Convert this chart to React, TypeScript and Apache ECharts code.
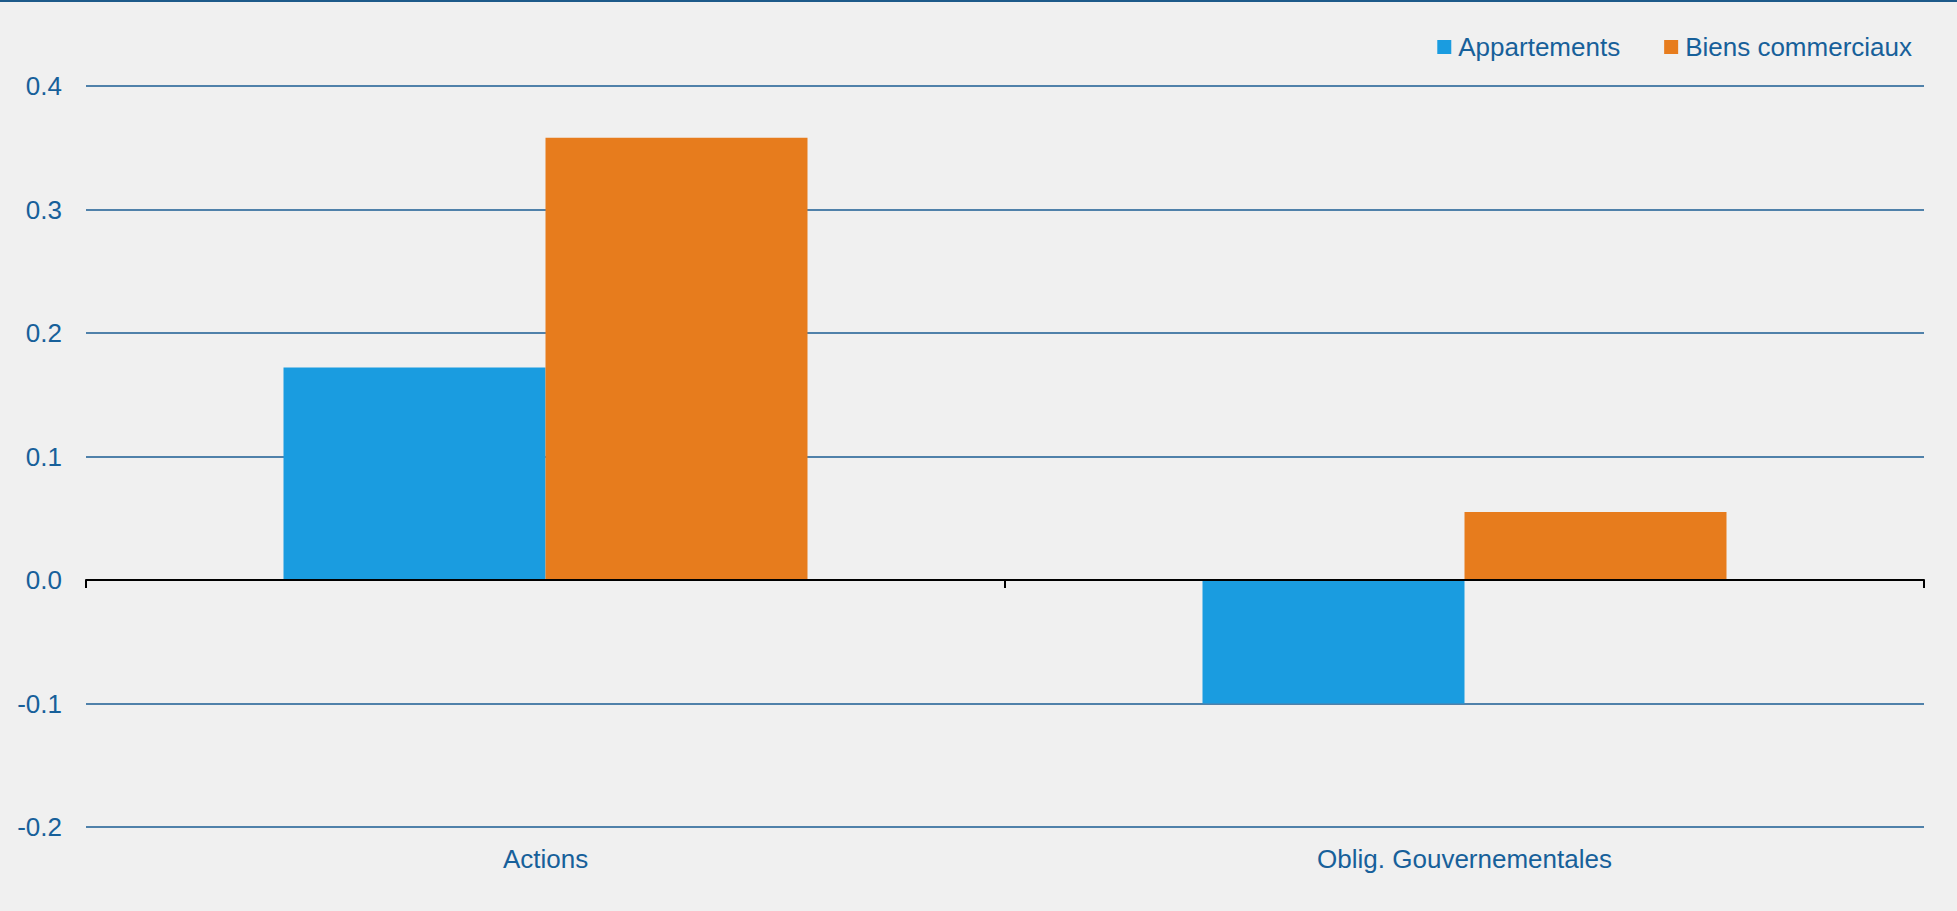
import React, { useEffect, useRef } from "react";
import * as echarts from "echarts";

const categories = ["Actions", "Oblig. Gouvernementales"];
const seriesNames = ["Appartements", "Biens commerciaux"];
const appartements = [0.172, -0.1];
const biensCommerciaux = [0.358, 0.055];
const yTicks = { min: -0.2, max: 0.4, interval: 0.1 };

const TEXT = "#17609a";
const GRID = "#1b5d93";
const FONT = "'Liberation Sans', Arial, sans-serif";

export default function App() {
  const ref = useRef<HTMLDivElement>(null);
  useEffect(() => {
    if (!ref.current) return;
    const chart = echarts.init(ref.current, undefined, { renderer: "svg" });
    chart.setOption({
      animation: false,
      backgroundColor: "#f0f0f0",
      textStyle: { fontFamily: FONT },
      graphic: [
        {
          type: "rect",
          left: 0,
          top: 0,
          shape: { width: 1957, height: 2 },
          style: { fill: "#1d5a8a" },
        },
      ],
      legend: {
        data: seriesNames,
        right: 40,
        top: 29,
        icon: "rect",
        itemWidth: 14,
        itemHeight: 14,
        itemGap: 44,
        textStyle: {
          color: TEXT,
          fontSize: 26,
          fontFamily: FONT,
          padding: [0, 0, 0, 2],
        },
      },
      grid: { left: 86, right: 33, top: 86, bottom: 84, containLabel: false },
      xAxis: [
        {
          type: "category",
          data: categories,
          axisLine: { onZero: true, lineStyle: { color: "#000", width: 2 } },
          axisTick: { show: true, length: 8, lineStyle: { color: "#000", width: 2 } },
          axisLabel: { show: false },
          splitLine: { show: false },
          z: 5,
        },
        {
          type: "category",
          data: categories,
          position: "bottom",
          axisLine: { show: false, onZero: false },
          axisTick: { show: false },
          axisLabel: {
            color: TEXT,
            fontSize: 26,
            fontFamily: FONT,
            margin: 19,
          },
          splitLine: { show: false },
        },
      ],
      yAxis: {
        type: "value",
        min: yTicks.min,
        max: yTicks.max,
        interval: yTicks.interval,
        axisLine: { show: false },
        axisTick: { show: false },
        axisLabel: {
          color: TEXT,
          fontSize: 26,
          fontFamily: FONT,
          margin: 24,
          formatter: (v: number) => v.toFixed(1),
        },
        splitLine: { lineStyle: { color: GRID, width: 1.5 } },
      },
      series: [
        {
          name: seriesNames[0],
          type: "bar",
          xAxisIndex: 0,
          data: appartements,
          barWidth: 262,
          barGap: "0%",
          itemStyle: { color: "#1a9ce0" },
        },
        {
          name: seriesNames[1],
          type: "bar",
          xAxisIndex: 0,
          data: biensCommerciaux,
          barWidth: 262,
          barGap: "0%",
          itemStyle: { color: "#e77c1d" },
        },
      ],
    });
    return () => chart.dispose();
  }, []);
  return (
    <div
      ref={ref}
      style={{ position: "absolute", left: 0, top: 0, width: 1957, height: 911 }}
    />
  );
}
